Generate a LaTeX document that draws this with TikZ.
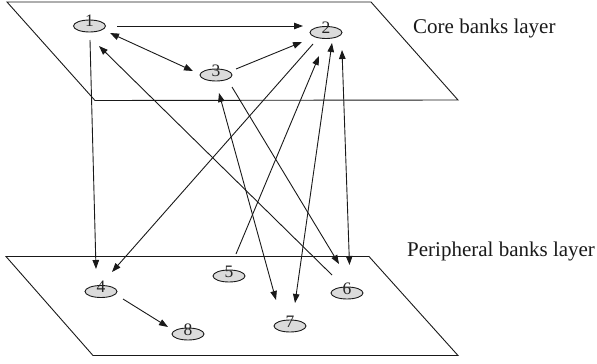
\documentclass[tikz,border=0pt]{standalone}
\usepackage{fontspec}
\setmainfont{Liberation Serif}
\usetikzlibrary{arrows.meta,shapes.geometric,calc}

\tikzset{
  plane/.style={draw=black!90, line width=0.9pt, line join=miter},
  bank/.style={ellipse, draw=black!90, line width=0.9pt, fill=gray!28,
    minimum width=32pt, minimum height=12pt, inner sep=0pt},
  banknum/.style={anchor=base, inner sep=0pt, text=black!85,
    font=\fontsize{17.5}{20}\selectfont},
  layername/.style={anchor=base west, inner sep=0pt, text=black!90,
    font=\fontsize{21}{24}\selectfont},
  link/.style={draw=black!90, line width=0.9pt,
    -{Triangle[length=9pt,width=6.5pt]}},
  link2/.style={draw=black!90, line width=0.9pt,
    {Triangle[length=9pt,width=6.5pt]}-{Triangle[length=9pt,width=6.5pt]}}
}

\begin{document}
\begin{tikzpicture}[x=1pt,y=-1pt]
\useasboundingbox (0,0) rectangle (597,364);

% the two layers
\draw[plane] (7,2) -- (371,2) -- (458,100) -- (95,100.5) -- cycle;
\draw[plane] (6,256.5) -- (369,256.5) -- (458,355.5) -- (93,355.5) -- cycle;

\node[layername] (core) at (413,33) {Core banks layer};
\node[layername] (peri) at (407,256) {Peripheral banks layer};

% banks
\node[bank] (n1) at (89.5,26) {};
\node[bank] (n2) at (326,32.5) {};
\node[bank] (n3) at (216,75) {};
\node[bank] (n4) at (101,291.5) {};
\node[bank] (n5) at (229,276) {};
\node[bank] (n6) at (347,293) {};
\node[bank] (n7) at (290,326) {};
\node[bank] (n8) at (188,334) {};

\foreach \i in {1,...,8}{
  \node[banknum] (t\i) at ($(n\i)+(0,1)$) {\i};
}

% exposures
\draw[link]  ($(n1)+(27.5,0)$)  -- ($(n2)+(-23,-6.5)$);
\draw[link2] ($(n1)+(20.5,7)$)  -- ($(n3)+(-23,-4)$);
\draw[link]  ($(n3)+(20,-6)$)   -- ($(n2)+(-24,9.5)$);
\draw[link]  ($(n1)+(0.5,14)$)  -- ($(n4)+(-5,-22.5)$);
\draw[link]  ($(n2)+(-13,11.5)$) -- ($(n4)+(11,-19.5)$);
\draw[link]  ($(n6)+(-15,-18)$) -- ($(n1)+(9.5,20)$);
\draw[link]  ($(n5)+(7,-22)$)   -- ($(n2)+(-7,23.5)$);
\draw[link2] ($(n2)+(6,10.5)$)  -- ($(n7)+(5,-23)$);
\draw[link2] ($(n2)+(16,17.5)$) -- ($(n6)+(2.5,-28)$);
\draw[link2] ($(n3)+(3,18)$)    -- ($(n7)+(-14,-26)$);
\draw[link]  ($(n3)+(16,12)$)   -- ($(n6)+(-8,-29)$);
\draw[link]  ($(n4)+(22,7.5)$)  -- ($(n8)+(-20,-7)$);
\end{tikzpicture}
\end{document}
